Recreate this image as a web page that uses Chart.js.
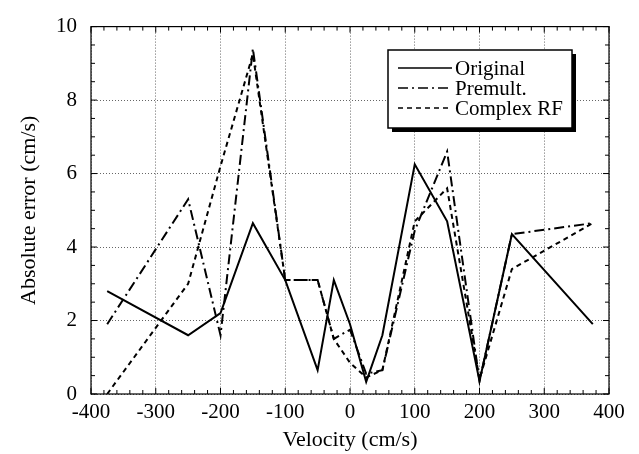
<!DOCTYPE html>
<html>
<head>
<meta charset="utf-8">
<script src="https://cdn.jsdelivr.net/npm/chart.js@4.4.0/dist/chart.umd.min.js"></script>
<style>
  html, body { margin: 0; padding: 0; background: #fff; }
  #wrap { width: 639px; height: 454px; }
</style>
</head>
<body>
<div id="wrap"><canvas id="chart"></canvas></div>
<script>
// values
const velocity  = [-375, -250, -200, -150, -100, -50, -25, 0, 25, 50, 100, 150, 200, 250, 375];
const original  = [2.8, 1.6, 2.2, 4.65, 3.1, 0.65, 3.1, 1.9, 0.33, 1.6, 6.25, 4.7, 0.35, 4.35, 1.9];
const premult   = [1.9, 5.3, 1.6, 9.4, 3.1, 3.1, 1.5, 1.75, 0.55, 0.65, 4.45, 6.6, 0.35, 4.35, 4.65];
const complexRF = [0, 3.0, 6.2, 9.25, 3.1, 3.1, 1.5, 0.85, 0.45, 0.65, 4.7, 5.6, 0.4, 3.4, 4.65];

const seriesNames = ['Original', 'Premult.', 'Complex RF'];
const xTicks = [-400, -300, -200, -100, 0, 100, 200, 300, 400];
const yTicks = [0, 2, 4, 6, 8, 10];

const serif = "'Liberation Serif', 'DejaVu Serif', serif";

function toPoints(ys) {
    return velocity.map((v, i) => ({ x: v, y: ys[i] }));
}

// frame, inward ticks, boxed legend and y title
const decorPlugin = {
    id: 'decor',
    afterDraw(chart) {
        const ctx = chart.ctx;
        const a = chart.chartArea;
        const xs = chart.scales.x, ys = chart.scales.y;
        ctx.save();
        ctx.strokeStyle = '#000';
        ctx.lineWidth = 1.2;
        ctx.setLineDash([]);
        ctx.strokeRect(a.left, a.top, a.right - a.left, a.bottom - a.top);

        ctx.lineWidth = 1;
        ctx.beginPath();
        for (let v = -400; v <= 400; v += 20) {
            const px = xs.getPixelForValue(v);
            const len = v % 100 === 0 ? 6 : 4;
            ctx.moveTo(px, a.bottom); ctx.lineTo(px, a.bottom - len);
            ctx.moveTo(px, a.top); ctx.lineTo(px, a.top + len);
        }
        for (let v = 0; v <= 10.001; v += 0.5) {
            const py = ys.getPixelForValue(v);
            const len = Math.abs(v % 2) < 0.01 ? 6 : 4;
            ctx.moveTo(a.left, py); ctx.lineTo(a.left + len, py);
            ctx.moveTo(a.right, py); ctx.lineTo(a.right - len, py);
        }
        ctx.stroke();

        // legend box with drop shadow
        const bx = 388, by = 50, bw = 184, bh = 78;
        ctx.fillStyle = '#000';
        ctx.fillRect(bx + 4, by + 4, bw, bh);
        ctx.fillStyle = '#fff';
        ctx.fillRect(bx, by, bw, bh);
        ctx.lineWidth = 1.5;
        ctx.strokeRect(bx, by, bw, bh);

        ctx.font = '21px ' + serif;
        ctx.textBaseline = 'middle';
        ctx.textAlign = 'left';
        chart.data.datasets.forEach((ds, i) => {
            const ly = by + 18 + i * 20;
            ctx.beginPath();
            ctx.lineWidth = 1.6;
            ctx.setLineDash(ds.borderDash || []);
            ctx.moveTo(bx + 10, ly);
            ctx.lineTo(bx + 64, ly);
            ctx.stroke();
            ctx.setLineDash([]);
            ctx.fillStyle = '#000';
            ctx.fillText(ds.label, bx + 67, ly + 1);
        });

        // y axis title
        ctx.translate(29, (a.top + a.bottom) / 2);
        ctx.rotate(-Math.PI / 2);
        ctx.textAlign = 'center';
        ctx.font = '22px ' + serif;
        ctx.fillText('Absolute error (cm/s)', 0, 0);
        ctx.restore();
    }
};

const ctx = document.getElementById('chart').getContext('2d');
new Chart(ctx, {
    type: 'line',
    data: {
        datasets: [
            {
                label: seriesNames[0],
                data: toPoints(original),
                borderColor: '#000',
                borderWidth: 2,
                borderDash: []
            },
            {
                label: seriesNames[1],
                data: toPoints(premult),
                borderColor: '#000',
                borderWidth: 2,
                borderDash: [10, 4, 2, 4]
            },
            {
                label: seriesNames[2],
                data: toPoints(complexRF),
                borderColor: '#000',
                borderWidth: 2,
                borderDash: [5, 4]
            }
        ]
    },
    options: {
        responsive: true,
        maintainAspectRatio: false,
        animation: false,
        layout: { padding: { top: 19, right: 30, left: 0, bottom: 0 } },
        elements: {
            point: { radius: 0 },
            line: { tension: 0, fill: false }
        },
        plugins: {
            legend: { display: false },
            tooltip: { enabled: false }
        },
        scales: {
            x: {
                type: 'linear',
                min: -400,
                max: 400,
                afterBuildTicks: (scale) => { scale.ticks = xTicks.map(v => ({ value: v })); },
                afterFit: (scale) => { scale.height = 60; },
                ticks: {
                    padding: 6,
                    color: '#000',
                    maxRotation: 0,
                    font: { family: serif, size: 21 }
                },
                grid: { color: '#666', lineWidth: 1, drawTicks: false },
                border: { display: false, dash: [1, 2] },
                title: {
                    display: true,
                    text: 'Velocity (cm/s)',
                    color: '#000',
                    font: { family: serif, size: 22 },
                    padding: { top: 0, bottom: 1 }
                }
            },
            y: {
                type: 'linear',
                min: 0,
                max: 10,
                afterBuildTicks: (scale) => { scale.ticks = yTicks.map(v => ({ value: v })); },
                afterFit: (scale) => { scale.width = 91; },
                ticks: {
                    padding: 14,
                    color: '#000',
                    font: { family: serif, size: 21 }
                },
                grid: { color: '#666', lineWidth: 1, drawTicks: false },
                border: { display: false, dash: [1, 2] }
            }
        }
    },
    plugins: [decorPlugin]
});
</script>
</body>
</html>
